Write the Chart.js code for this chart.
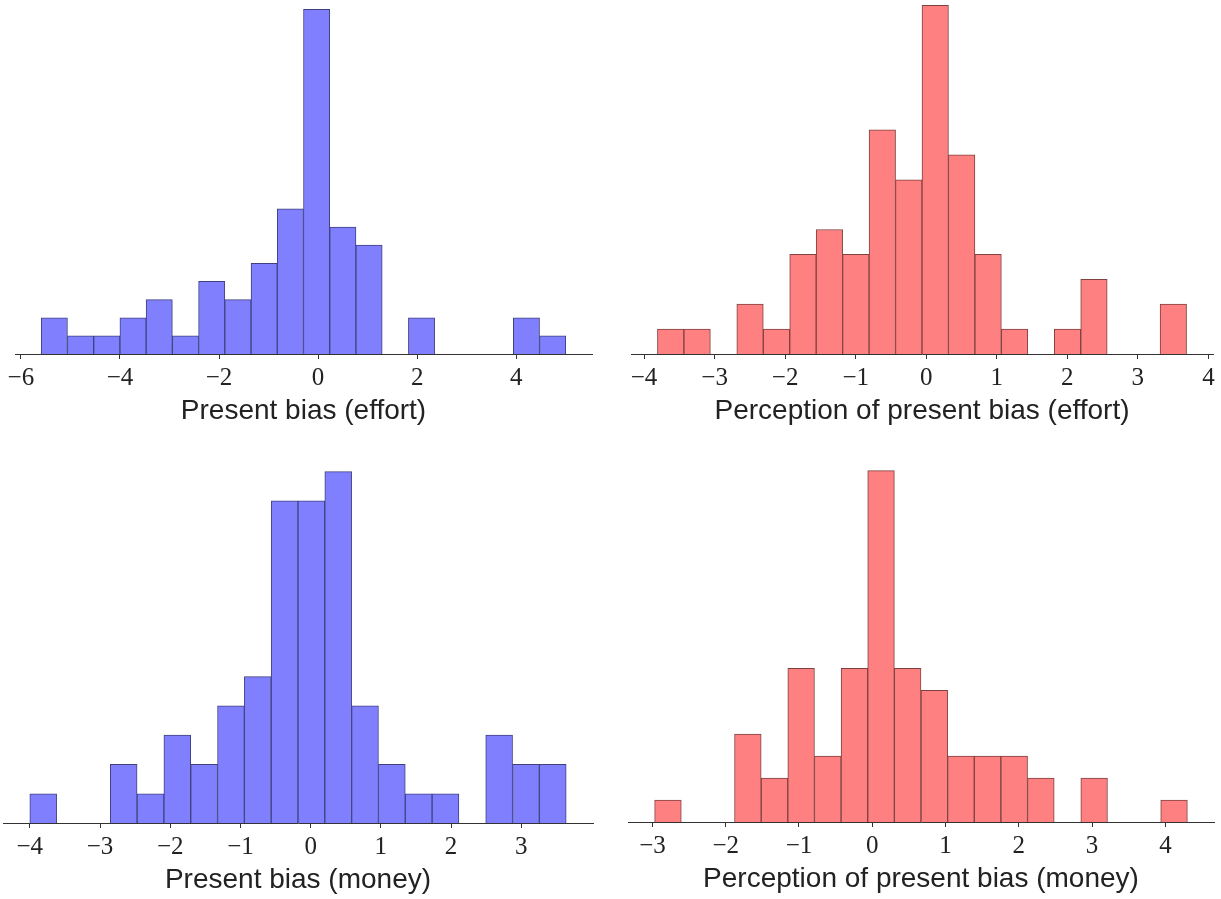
<!DOCTYPE html>
<html>
<head>
<meta charset="utf-8">
<title>Present bias histograms</title>
<script src="https://cdn.jsdelivr.net/npm/chart.js@4.4.0/dist/chart.umd.min.js"></script>
<style>
  html, body { margin: 0; padding: 0; background: #fff; }
  body { position: relative; width: 1221px; height: 899px; overflow: hidden; }
  canvas { position: absolute; }
</style>
</head>
<body>
<canvas id="effort-bias"></canvas>
<canvas id="effort-perception"></canvas>
<canvas id="money-bias"></canvas>
<canvas id="money-perception"></canvas>
<script>
// Histogram counts: 20 equal-width bins between the outer bin edges
const effortBiasCounts = [2, 1, 1, 2, 3, 1, 4, 3, 5, 8, 19, 7, 6, 0, 2, 0, 0, 0, 2, 1];
const effortBiasEdges = [-5.59, 5.00];
const effortBiasTicks = [-6, -4, -2, 0, 2, 4];

const effortPerceptionCounts = [1, 1, 0, 2, 1, 4, 5, 4, 9, 7, 14, 8, 4, 1, 0, 1, 3, 0, 0, 2];
const effortPerceptionEdges = [-3.81, 3.69];
const effortPerceptionTicks = [-4, -3, -2, -1, 0, 1, 2, 3, 4];

const moneyBiasCounts = [1, 0, 0, 2, 1, 3, 2, 4, 5, 11, 11, 12, 4, 2, 1, 1, 0, 3, 2, 2];
const moneyBiasEdges = [-4.00, 3.64];
const moneyBiasTicks = [-4, -3, -2, -1, 0, 1, 2, 3];

const moneyPerceptionCounts = [1, 0, 0, 4, 2, 7, 3, 7, 16, 7, 6, 3, 3, 3, 2, 0, 2, 0, 0, 1];
const moneyPerceptionEdges = [-2.97, 4.30];
const moneyPerceptionTicks = [-3, -2, -1, 0, 1, 2, 3, 4];

const BLUE = { fill: '#8080ff', edge: '#40407f' };
const RED = { fill: '#ff8080', edge: '#7f4040' };

const minus = v => (v < 0 ? '\u2212' + Math.abs(v) : String(v));

function histogram(id, counts, edges, ticks, label, colors, box) {
  const canvas = document.getElementById(id);
  canvas.width = box.w;
  canvas.height = box.h;
  canvas.style.left = box.x + 'px';
  canvas.style.top = box.y + 'px';

  const span = edges[1] - edges[0];
  const binWidth = span / counts.length;
  const points = counts.map((c, i) => ({ x: edges[0] + (i + 0.5) * binWidth, y: c }));

  return new Chart(canvas, {
    type: 'bar',
    data: {
      datasets: [{
        data: points,
        backgroundColor: colors.fill,
        borderColor: colors.edge,
        borderWidth: 1,
        barPercentage: 1,
        categoryPercentage: 1
      }]
    },
    options: {
      responsive: false,
      animation: false,
      events: [],
      layout: { padding: { left: box.pad, right: box.pad, top: 0, bottom: 0 } },
      plugins: { legend: { display: false }, tooltip: { enabled: false } },
      scales: {
        x: {
          type: 'linear',
          offset: false,
          min: edges[0] - 0.05 * span,
          max: edges[1] + 0.05 * span,
          afterBuildTicks: axis => { axis.ticks = ticks.map(value => ({ value })); },
          grid: { offset: false, drawOnChartArea: false, drawTicks: true, tickLength: 5, color: '#333', lineWidth: 1 },
          border: { display: true, color: '#333', width: 1 },
          ticks: {
            padding: 4,
            color: '#222',
            autoSkip: false,
            maxRotation: 0,
            font: { family: "'Liberation Serif', serif", size: 25 },
            callback: minus
          },
          title: {
            display: true,
            text: label,
            color: '#222',
            padding: 0,
            font: { family: "'Liberation Sans', sans-serif", size: 28, lineHeight: 1 }
          }
        },
        y: { display: false, min: 0, max: Math.max(...counts) * 1.05 }
      }
    }
  });
}

histogram('effort-bias', effortBiasCounts, effortBiasEdges, effortBiasTicks,
  'Present bias (effort)', BLUE, { x: -10, y: -8, w: 627, h: 433, pad: 25 });
histogram('effort-perception', effortPerceptionCounts, effortPerceptionEdges, effortPerceptionTicks,
  'Perception of present bias (effort)', RED, { x: 606, y: -12, w: 632, h: 437, pad: 25 });
histogram('money-bias', moneyBiasCounts, moneyBiasEdges, moneyBiasTicks,
  'Present bias (money)', BLUE, { x: -22, y: 454, w: 640, h: 440, pad: 25 });
histogram('money-perception', moneyPerceptionCounts, moneyPerceptionEdges, moneyPerceptionTicks,
  'Perception of present bias (money)', RED, { x: 603, y: 453, w: 636, h: 440, pad: 25 });
</script>
</body>
</html>
